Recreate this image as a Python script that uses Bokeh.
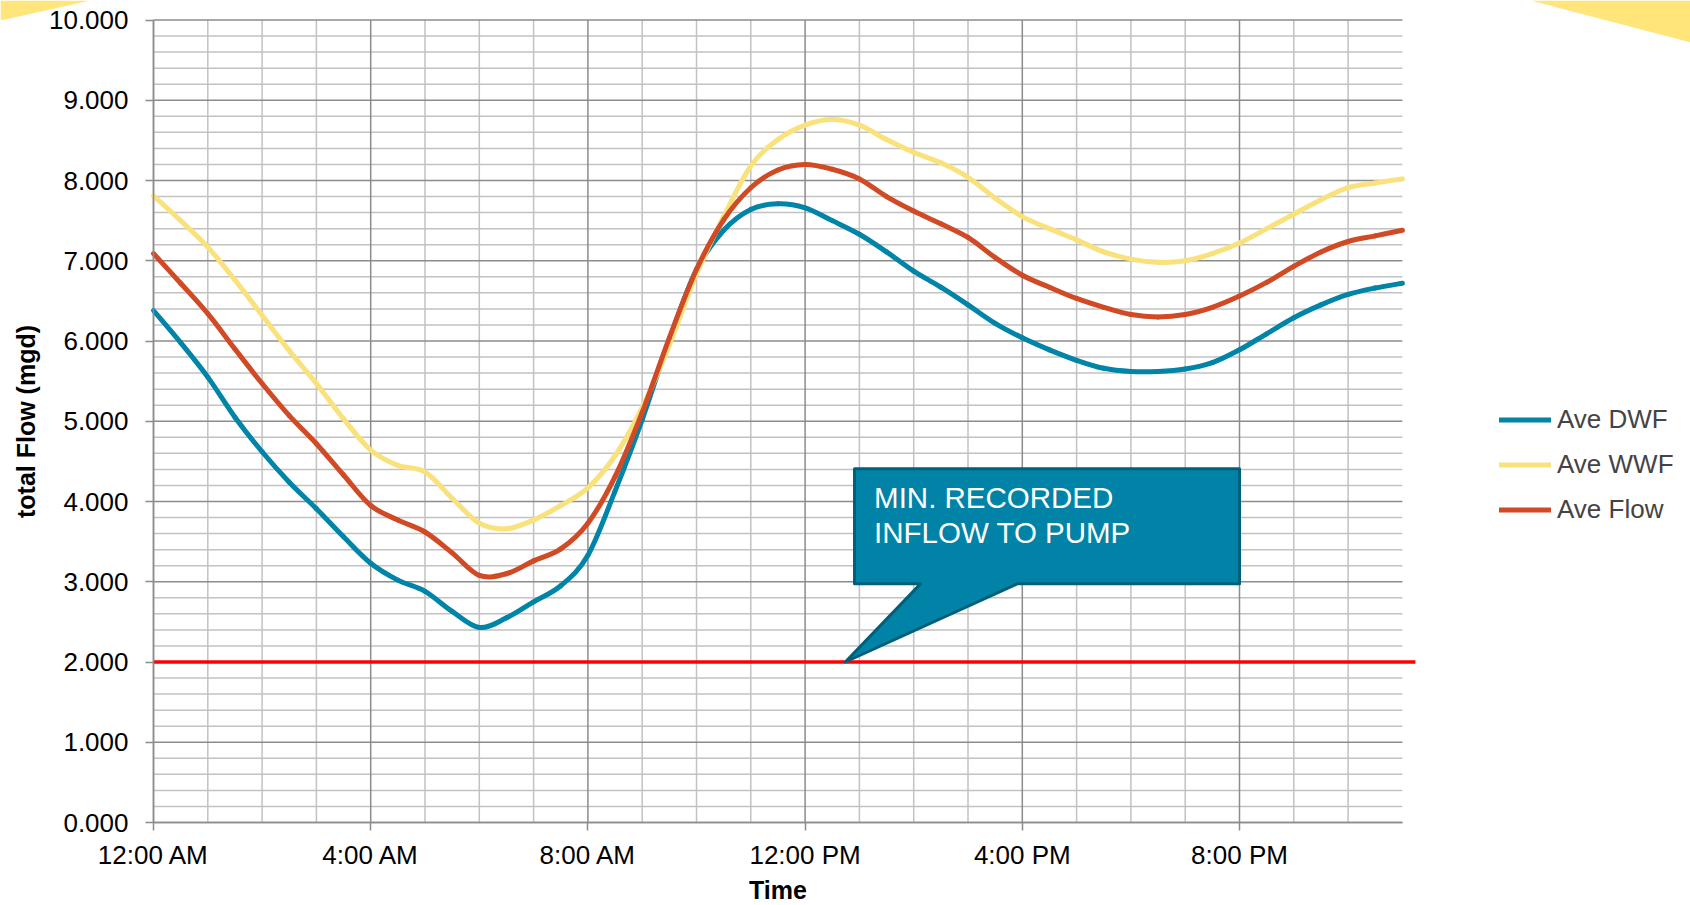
from bokeh.plotting import figure
from bokeh.models import (Range1d, FixedTicker, NumeralTickFormatter, Legend, LegendItem,
                          Label, PolyAnnotation)
from bokeh.embed import file_html
from bokeh.resources import INLINE

# ---------------- data ----------------
hours = [i / 2 for i in range(47)]  # 0:00 .. 23:00 every half hour

ave_dwf = [6.38, 5.98, 5.55, 5.05, 4.62, 4.24, 3.91, 3.56, 3.23, 3.02,
           2.88, 2.63, 2.43, 2.55, 2.75, 2.95, 3.33, 4.13, 5.02, 6.02,
           6.89, 7.38, 7.64, 7.71, 7.66, 7.50, 7.33, 7.11, 6.87, 6.67,
           6.45, 6.22, 6.04, 5.89, 5.76, 5.66, 5.62, 5.62, 5.65, 5.73,
           5.89, 6.09, 6.29, 6.45, 6.58, 6.66, 6.72]

ave_wwf = [7.81, 7.50, 7.17, 6.76, 6.32, 5.88, 5.47, 5.03, 4.64, 4.45,
           4.37, 4.04, 3.73, 3.66, 3.77, 3.95, 4.17, 4.57, 5.17, 5.95,
           6.84, 7.55, 8.18, 8.51, 8.69, 8.76, 8.69, 8.51, 8.35, 8.22,
           8.04, 7.78, 7.55, 7.40, 7.26, 7.11, 7.02, 6.98, 7.00, 7.09,
           7.22, 7.40, 7.58, 7.76, 7.91, 7.97, 8.02]

ave_flow = [7.09, 6.72, 6.34, 5.90, 5.47, 5.07, 4.72, 4.33, 3.95, 3.77,
            3.62, 3.36, 3.08, 3.10, 3.26, 3.41, 3.73, 4.31, 5.11, 6.04,
            6.89, 7.51, 7.91, 8.13, 8.20, 8.14, 8.02, 7.80, 7.62, 7.46,
            7.29, 7.04, 6.82, 6.67, 6.53, 6.42, 6.33, 6.30, 6.33, 6.42,
            6.56, 6.73, 6.93, 7.11, 7.24, 7.31, 7.38]

series_names = ["Ave DWF", "Ave WWF", "Ave Flow"]
min_recorded_inflow = 2.0

x_tick_hours = [0, 4, 8, 12, 16, 20]
x_tick_labels = ["12:00 AM", "4:00 AM", "8:00 AM", "12:00 PM", "4:00 PM", "8:00 PM"]
y_ticks = list(range(11))
callout_lines = ["MIN. RECORDED", "INFLOW TO PUMP"]

# ---------------- layout / styling ----------------
W, H = 1690, 905
ORIGIN_PX = (153, 822)          # pixel position of (0 h, 0 mgd)
PX_PER_HOUR = 54.3
PX_PER_UNIT = 80.25
LAST_HOUR = 23
RED_END = 23.24                 # threshold line runs slightly past the last hour

FONT = "Liberation Sans"
C_DWF = "#0084A7"
C_WWF = "#F9E17B"
C_FLOW = "#D14A26"
C_RED = "#FF0000"
C_MAJOR = "#8C8C8C"
C_MINOR = "#C2C2C2"
C_DECOR = "#FFE57A"

x0_px, y0_px = ORIGIN_PX
x_range = Range1d(-x0_px / PX_PER_HOUR, (W - x0_px) / PX_PER_HOUR)
y_range = Range1d(-(H - y0_px) / PX_PER_UNIT, y0_px / PX_PER_UNIT)

p = figure(width=W, height=H, x_range=x_range, y_range=y_range,
           output_backend="svg", toolbar_location=None, title=None,
           min_border=0)
p.outline_line_color = None
p.background_fill_color = "white"
p.border_fill_color = "white"
p.xgrid.visible = False
p.ygrid.visible = False

# ---- grid lines (bounded to the chart area) ----
x_minor = [h for h in range(1, LAST_HOUR) if h % 4 != 0]
y_minor = [k / 5 for k in range(51) if k % 5 != 0]
p.segment(x0=x_minor, x1=x_minor, y0=0, y1=10, line_color=C_MINOR, line_width=1.5,
          level="underlay")
p.segment(x0=0, x1=LAST_HOUR, y0=y_minor, y1=y_minor, line_color=C_MINOR,
          line_width=1.5, level="underlay")
p.segment(x0=0, x1=LAST_HOUR, y0=y_ticks, y1=y_ticks, line_color=C_MAJOR,
          line_width=1.5, level="underlay")
p.segment(x0=x_tick_hours, x1=x_tick_hours, y0=0, y1=10, line_color=C_MAJOR,
          line_width=1.5, level="underlay")

# ---- axes (pinned at the data origin) ----
xa = p.xaxis[0]
xa.fixed_location = 0
xa.ticker = FixedTicker(ticks=x_tick_hours, minor_ticks=[])
xa.major_label_overrides = {h: lab for h, lab in zip(x_tick_hours, x_tick_labels)}
xa.bounds = (0, LAST_HOUR)
xa.axis_label = "Time"
ya = p.yaxis[0]
ya.fixed_location = 0
ya.ticker = FixedTicker(ticks=y_ticks, minor_ticks=[])
ya.formatter = NumeralTickFormatter(format="0.000")
ya.bounds = (0, 10)
ya.axis_label = "total Flow (mgd)"
for ax in (xa, ya):
    ax.axis_line_color = C_MAJOR
    ax.axis_line_width = 1.5
    ax.major_tick_line_color = C_MAJOR
    ax.major_tick_line_width = 1.5
    ax.major_tick_out = 8
    ax.major_tick_in = 0
    ax.minor_tick_out = 0
    ax.minor_tick_in = 0
    ax.major_label_text_font = FONT
    ax.major_label_text_font_size = "26px"
    ax.major_label_text_color = "black"
    ax.axis_label_text_font = FONT
    ax.axis_label_text_font_size = "25px"
    ax.axis_label_text_font_style = "bold"
    ax.axis_label_text_color = "black"
xa.major_label_standoff = 9
xa.axis_label_standoff = 3
ya.major_label_standoff = 17
ya.axis_label_standoff = 6

# ---- threshold line ----
p.segment(x0=0, x1=RED_END, y0=min_recorded_inflow, y1=min_recorded_inflow,
          line_color=C_RED, line_width=3.5)


# ---- smooth series (cubic Bezier through every read value) ----
def bezier_through(xs, ys):
    n = len(xs)
    out = {k: [] for k in ("x0", "y0", "x1", "y1", "cx0", "cy0", "cx1", "cy1")}
    for i in range(n - 1):
        xm, ym = (xs[i - 1], ys[i - 1]) if i > 0 else (xs[i], ys[i])
        xp, yp = (xs[i + 2], ys[i + 2]) if i + 2 < n else (xs[i + 1], ys[i + 1])
        out["x0"].append(xs[i]); out["y0"].append(ys[i])
        out["x1"].append(xs[i + 1]); out["y1"].append(ys[i + 1])
        out["cx0"].append(xs[i] + (xs[i + 1] - xm) / 6)
        out["cy0"].append(ys[i] + (ys[i + 1] - ym) / 6)
        out["cx1"].append(xs[i + 1] - (xp - xs[i]) / 6)
        out["cy1"].append(ys[i + 1] - (yp - ys[i]) / 6)
    return out


renderers = []
for vals, col in zip([ave_dwf, ave_wwf, ave_flow], [C_DWF, C_WWF, C_FLOW]):
    r = p.bezier(**bezier_through(hours, vals), line_color=col, line_width=5,
                 line_cap="round")
    renderers.append(r)

legend = Legend(items=[LegendItem(label=n, renderers=[r])
                       for n, r in zip(series_names, renderers)],
                location=(1499, H - 532), padding=0, margin=0, spacing=0,
                glyph_width=52, glyph_height=45, label_height=45, label_standoff=6,
                label_text_font=FONT, label_text_font_size="26px",
                background_fill_alpha=0, border_line_alpha=0)
p.add_layout(legend)

# ---- callout (speech bubble) pointing at the minimum recorded inflow ----
tip_x, tip_y = 12.74, min_recorded_inflow
box_l, box_r, box_b, box_t = 12.91, 20.0, 2.974, 4.407
base_l, base_r = 14.125, 15.906
bx = [box_l, box_r, box_r, base_r, tip_x, base_l, box_l]
by = [box_t, box_t, box_b, box_b, tip_y, box_b, box_b]
p.patch(bx, by, fill_color="#0083A6", line_color="#005F79", line_width=3,
        line_join="round")
for txt, yy in zip(callout_lines, [4.05, 3.61]):
    p.add_layout(Label(x=13.27, y=yy, text=txt, text_color="white",
                       text_font=FONT, text_font_size="29.5px",
                       text_baseline="alphabetic", text_align="left"))

# ---- decorative slide corners (screen pixels, origin bottom-left) ----
p.add_layout(PolyAnnotation(xs=[0, 90, 0], ys=[H, H, H - 20],
                            xs_units="screen", ys_units="screen",
                            fill_color=C_DECOR, fill_alpha=1, line_alpha=0))
p.add_layout(PolyAnnotation(xs=[1530, W, W], ys=[H, H, H - 42],
                            xs_units="screen", ys_units="screen",
                            fill_color=C_DECOR, fill_alpha=1, line_alpha=0))

open("out.html", "w").write(file_html(p, INLINE))
